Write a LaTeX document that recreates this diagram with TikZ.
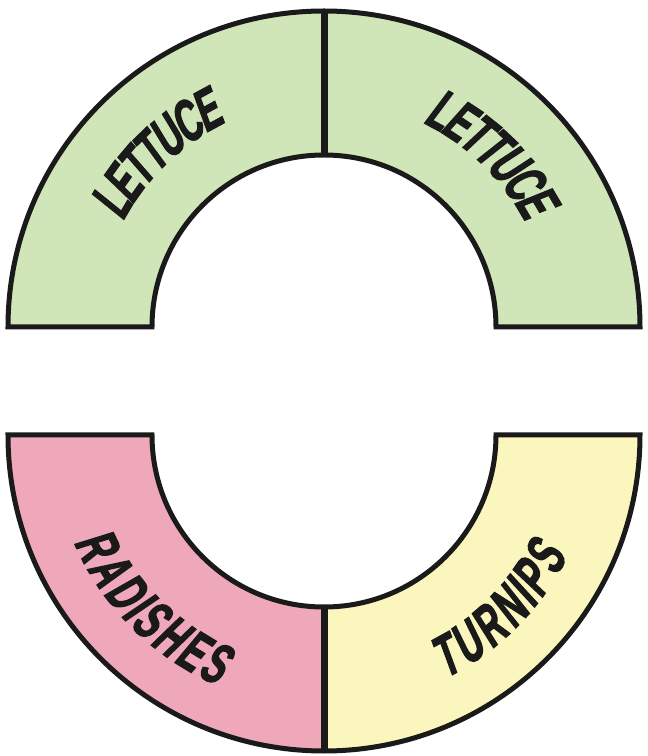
\documentclass[tikz,border=0pt]{standalone}
\usepackage{fontspec}
\newfontfamily\condfont[FakeStretch=0.59,FakeBold=2,FakeSlant=0.15]{Liberation Sans}
\usetikzlibrary{decorations.text}
\definecolor{lettgreen}{HTML}{D0E6B8}
\definecolor{radpink}{HTML}{EEA8BA}
\definecolor{turnyellow}{HTML}{FBF6BE}
\definecolor{ink}{HTML}{1A1A1A}
\newcommand{\labfont}{\condfont\bfseries\fontsize{58}{58}\selectfont}
\tikzset{
  band/.style={draw=ink, line width=5pt, line join=miter},
  divider/.style={draw=ink, line width=7pt},
  arclabel/.style={decorate, decoration={text along path, text align=center, text color=ink}}
}
\begin{document}
\begin{tikzpicture}[x=1pt,y=1pt]
\useasboundingbox (0,0) rectangle (648,756);
\coordinate (T) at (324,429);
\coordinate (B) at (324,321);
% top half (lettuce)
\fill[lettgreen] (T) ++(180:316) arc[start angle=180,end angle=0,radius=316] -- ++(-144,0) arc[start angle=0,end angle=180,radius=172] -- cycle;
\draw[band] (T) ++(180:316) arc[start angle=180,end angle=0,radius=316] -- ++(-144,0) arc[start angle=0,end angle=180,radius=172] -- cycle;
\draw[divider] (T) ++(90:172) -- ++(0,144);
% bottom half
\fill[radpink] (B) ++(180:316) -- ++(144,0) arc[start angle=180,end angle=270,radius=172] -- ++(0,-144) arc[start angle=270,end angle=180,radius=316] -- cycle;
\fill[turnyellow] (B) ++(0:316) -- ++(-144,0) arc[start angle=0,end angle=-90,radius=172] -- ++(0,-144) arc[start angle=-90,end angle=0,radius=316] -- cycle;
\draw[band] (B) ++(180:316) -- ++(144,0) arc[start angle=180,end angle=360,radius=172] -- ++(144,0) arc[start angle=0,end angle=-180,radius=316] -- cycle;
\draw[divider] (B) ++(-90:172) -- ++(0,-144);
% labels
\path[arclabel, decoration={text={|\labfont|LETTUCE}, raise=-23pt}] (T) ++(174:250) arc[start angle=174,end angle=94,radius=250];
\path[arclabel, decoration={text={|\labfont|LETTUCE}, raise=-23pt}] (T) ++(86:250) arc[start angle=86,end angle=6,radius=250];
\path[arclabel, decoration={text={|\labfont|RADISHES}, raise=-45pt}] (B) ++(185:227) arc[start angle=185,end angle=265,radius=227];
\path[arclabel, decoration={text={|\labfont|TURNIPS}, raise=-45pt}] (B) ++(275:227) arc[start angle=275,end angle=355,radius=227];
\end{tikzpicture}
\end{document}
